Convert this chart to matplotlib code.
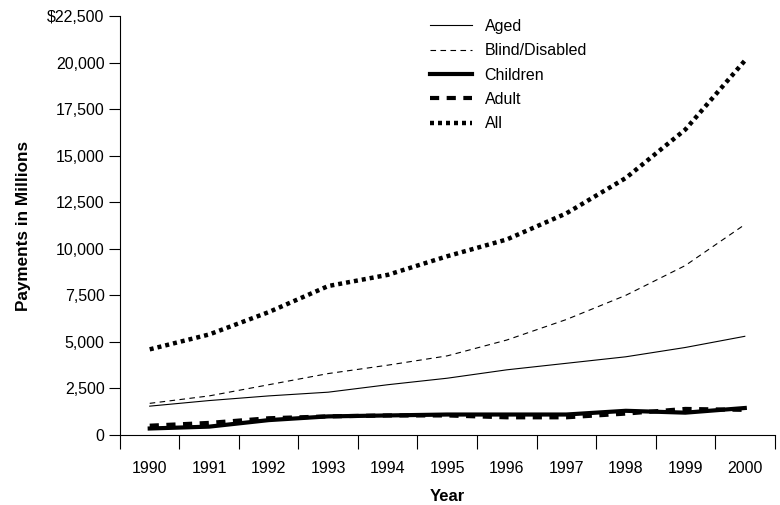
import numpy as np
import matplotlib.pyplot as plt
from matplotlib.ticker import FixedLocator, FuncFormatter

plt.rcParams['font.family'] = ['Liberation Sans', 'DejaVu Sans']

years = ['1990', '1991', '1992', '1993', '1994', '1995',
         '1996', '1997', '1998', '1999', '2000']

# payments in millions of dollars
aged = [1550, 1850, 2100, 2300, 2700, 3050, 3500, 3850, 4200, 4700, 5300]
blind_disabled = [1700, 2100, 2700, 3300, 3750, 4250, 5100, 6200, 7500, 9100, 11300]
children = [350, 450, 800, 1000, 1050, 1100, 1100, 1100, 1300, 1200, 1450]
adult = [500, 650, 900, 1000, 1050, 1050, 950, 950, 1150, 1400, 1350]
all_recipients = [4600, 5400, 6600, 8000, 8600, 9600, 10500, 11900, 13800, 16400, 20100]

x = np.arange(len(years))

fig = plt.figure(figsize=(7.8, 5.05), dpi=100)
ax = fig.add_axes([0.1538, 0.1386, 0.8392, 0.8297])

ax.plot(x, aged, color='black', lw=0.8, label='Aged')
ax.plot(x, blind_disabled, color='black', lw=0.8, dashes=(5, 4), label='Blind/Disabled')
ax.plot(x, children, color='black', lw=3.0, label='Children')
ax.plot(x, adult, color='black', lw=3.0, dashes=(2.2, 1.8), label='Adult')
ax.plot(x, all_recipients, color='black', lw=3.2, dashes=(0.9, 0.9), label='All')

ax.set_xlim(-0.5, len(years) - 0.5)
ax.set_ylim(0, 22500)

# year labels centred in each slot, ticks on the slot edges
ax.set_xticks(x)
ax.set_xticklabels(years, fontsize=11.5)
ax.tick_params(axis='x', which='major', length=0, pad=19)
ax.xaxis.set_minor_locator(FixedLocator(np.arange(-0.5, len(years), 1.0)))
ax.tick_params(axis='x', which='minor', length=10, width=0.8, direction='out')

ax.set_yticks(np.arange(0, 22501, 2500))
ax.yaxis.set_major_formatter(FuncFormatter(
    lambda v, p: '$' + f'{v:,.0f}' if v == 22500 else f'{v:,.0f}'))
ax.tick_params(axis='y', length=8, width=0.8, labelsize=11.5, pad=3)

ax.spines['top'].set_visible(False)
ax.spines['right'].set_visible(False)
ax.spines['left'].set_linewidth(0.8)
ax.spines['bottom'].set_linewidth(0.8)

ax.set_xlabel('Year', fontsize=12, fontweight='bold', labelpad=9)
ax.set_ylabel('Payments in Millions', fontsize=12.3, fontweight='bold', labelpad=12)

ax.legend(loc='upper left', bbox_to_anchor=(0.452, 1.027), frameon=False,
          fontsize=11.5, handlelength=2.6, labelspacing=0.58, handletextpad=0.8)

fig.savefig('out.png', dpi=100)
